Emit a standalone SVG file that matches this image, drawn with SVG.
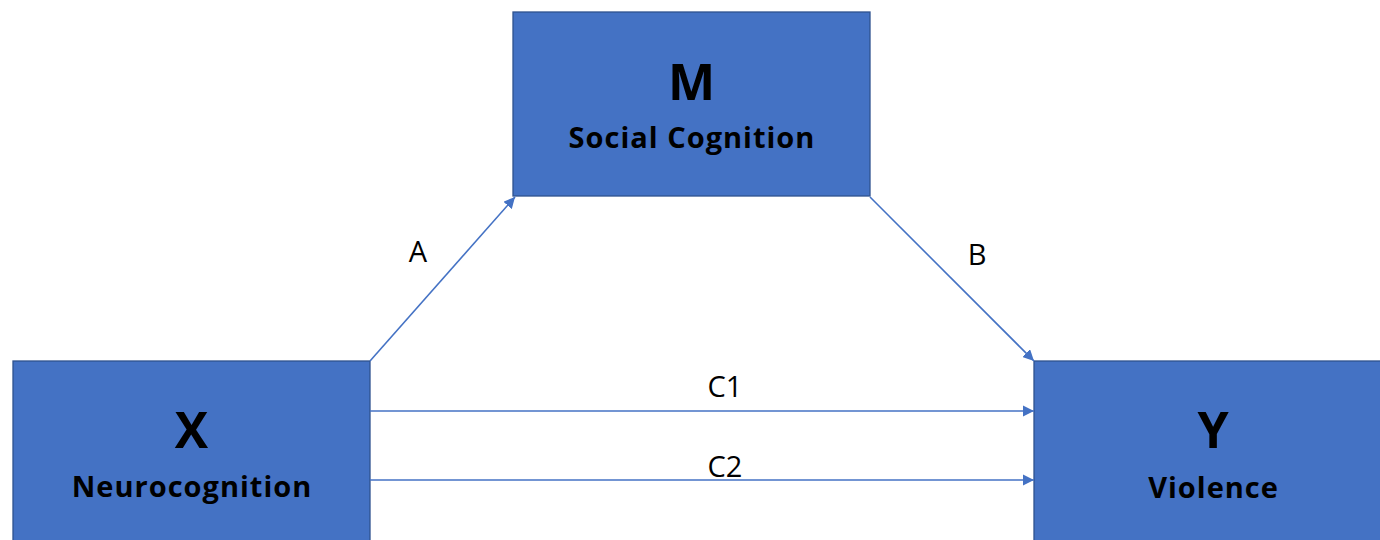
<svg xmlns="http://www.w3.org/2000/svg" width="1380" height="540" viewBox="0 0 1380 540">
<style>
.box{fill:#4472C4;stroke:#2F528F;stroke-width:1.3}
.title{font-family:"Open Sans",Lato,"Liberation Sans",sans-serif;font-weight:bold;font-size:50px;fill:#000;text-anchor:middle}
.sub{font-family:"Open Sans",Lato,"Liberation Sans",sans-serif;font-weight:bold;font-size:29px;letter-spacing:1px;fill:#000;text-anchor:middle}
.lbl{font-family:"Open Sans",Lato,"Liberation Sans",sans-serif;font-size:29px;fill:#000;text-anchor:middle}
.conn{stroke:#4472C4;stroke-width:1.6;fill:none;marker-end:url(#ah)}
</style>
<defs>
<marker id="ah" viewBox="0 0 10 10" refX="10" refY="5" markerWidth="7" markerHeight="7" orient="auto" markerUnits="strokeWidth">
<path d="M0,0 L10,5 L0,10 Z" fill="#4472C4"/>
</marker>
</defs>
<rect width="1380" height="540" fill="#fff"/>
<g id="node-M">
<rect class="box" x="513" y="12" width="357" height="184"/>
<text class="title" x="691.5" y="100">M</text>
<text class="sub" x="692" y="148">Social Cognition</text>
</g>
<g id="node-X">
<rect class="box" x="13" y="361" width="357" height="200"/>
<text class="title" x="191.5" y="448">X</text>
<text class="sub" x="192" y="497">Neurocognition</text>
</g>
<g id="node-Y">
<rect class="box" x="1034" y="361" width="358" height="200"/>
<text class="title" x="1213" y="448">Y</text>
<text class="sub" x="1213.5" y="498">Violence</text>
</g>
<g id="connectors">
<line class="conn" x1="370" y1="361" x2="515" y2="197"/>
<line class="conn" x1="870" y1="197" x2="1034" y2="361"/>
<line class="conn" x1="370" y1="411" x2="1034" y2="411"/>
<line class="conn" x1="370" y1="480" x2="1034" y2="480"/>
</g>
<g id="labels">
<text class="lbl" x="418" y="262">A</text>
<text class="lbl" x="977" y="265">B</text>
<text class="lbl" x="725" y="397">C1</text>
<text class="lbl" x="725" y="477">C2</text>
</g>
</svg>
